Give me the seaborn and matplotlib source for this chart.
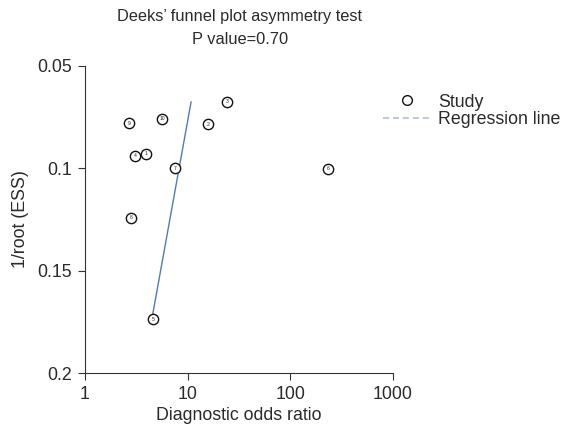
"""Deeks' funnel plot asymmetry test, redrawn with seaborn."""
import matplotlib
matplotlib.use('Agg')
import numpy as np
import pandas as pd
import matplotlib.pyplot as plt
import seaborn as sns
from matplotlib.lines import Line2D

# --- Data ---
study_id = [1, 2, 3, 4, 5, 6, 7, 8, 9, 10]
dor = [3.94, 16.0, 24.2, 3.08, 4.65, 234.5, 7.57, 2.79, 2.71, 5.69]
inv_root_ess = [0.0930, 0.0786, 0.0675, 0.0939, 0.1736, 0.1003, 0.0999, 0.1242, 0.0781, 0.0758]

reg_dor = [10.84, 4.49]
reg_y = [0.0675, 0.1736]

x_ticks = [1, 10, 100, 1000]
x_labels = ['1', '10', '100', '1000']
y_ticks = [0.05, 0.1, 0.15, 0.2]
y_labels = ['0.05', '0.1', '0.15', '0.2']

df = pd.DataFrame({'study': study_id, 'dor': dor, 'y': inv_root_ess})
reg = pd.DataFrame({'dor': reg_dor, 'y': reg_y})

sns.set_style('ticks')
plt.rcParams['font.family'] = ['Liberation Sans', 'DejaVu Sans']
plt.rcParams['axes.linewidth'] = 0.8
plt.rcParams['xtick.major.width'] = 0.8
plt.rcParams['ytick.major.width'] = 0.8
plt.rcParams['xtick.major.size'] = 5.2
plt.rcParams['ytick.major.size'] = 5.2

fig = plt.figure(figsize=(5.66, 4.36), dpi=100)
ax = fig.add_axes([0.150, 0.144, 0.544, 0.705])

reg_color = '#4f7cb6'
sns.lineplot(data=reg, x='dor', y='y', ax=ax, color=reg_color, linewidth=1.0,
             sort=False, estimator=None)
sns.scatterplot(data=df, x='dor', y='y', ax=ax, s=55, facecolor='white',
                edgecolor='#111111', linewidth=1.0, zorder=3)
for _, r in df.iterrows():
    ax.text(r['dor'], r['y'], str(int(r['study'])), fontsize=3.6,
            ha='center', va='center', color='#222222', zorder=4)

ax.set_xscale('log')
ax.set_xlim(1, 1000)
ax.set_ylim(0.2, 0.05)
ax.set_xticks(x_ticks)
ax.set_xticklabels(x_labels)
ax.set_yticks(y_ticks)
ax.set_yticklabels(y_labels)
ax.minorticks_off()
ax.tick_params(labelsize=12.8, colors='#333333', labelcolor='#2a2a2a', pad=4)
for side in ['top', 'right']:
    ax.spines[side].set_visible(False)
for side in ['left', 'bottom']:
    ax.spines[side].set_color('#333333')

ax.set_xlabel('Diagnostic odds ratio', fontsize=12.8, color='#2a2a2a', labelpad=3)
ax.set_ylabel('1/root (ESS)', fontsize=12.8, color='#2a2a2a', labelpad=6)

fig.text(0.424, 0.962, "Deeks\u2019 funnel plot asymmetry test", ha='center', va='center',
         fontsize=11.8, color='#2a2a2a')
fig.text(0.424, 0.909, 'P value=0.70', ha='center', va='center',
         fontsize=11.8, color='#2a2a2a')

handles = [
    Line2D([], [], marker='o', linestyle='none', markersize=7, markerfacecolor='white',
           markeredgecolor='#111111', markeredgewidth=1.0),
    Line2D([], [], color='#a9b9d2', linestyle=(0, (4, 2.5)), linewidth=1.1),
]
ax.legend(handles, ['Study', 'Regression line'], loc='upper left',
          bbox_to_anchor=(0.968, 0.91), frameon=False, fontsize=12.8,
          handlelength=2.7, handletextpad=0.4, labelspacing=0.05,
          borderaxespad=0.0, borderpad=0.0, labelcolor='#2a2a2a')

plt.savefig('out.png', dpi=100)
plt.close()
